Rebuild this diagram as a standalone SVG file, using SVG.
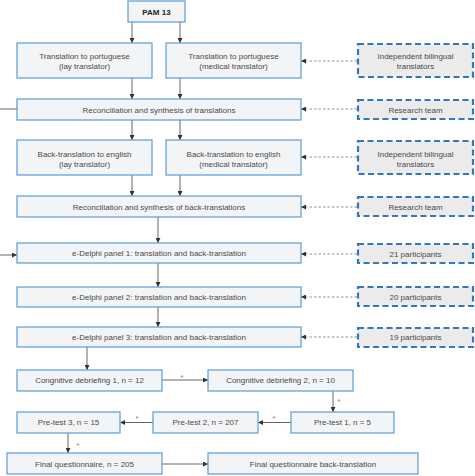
<svg xmlns="http://www.w3.org/2000/svg" width="475" height="476" viewBox="0 0 475 476">
<defs>
<style>
.b{fill:#f3f4f5;stroke:#5b9bd5;stroke-width:1.2}
.d{fill:#ebebeb;stroke:#3378ba;stroke-width:2.2;stroke-dasharray:6,3.5}
.t{font-family:"Liberation Sans",Arial,sans-serif;font-size:8px;fill:#4a4a4a;text-anchor:middle}
.bold{font-weight:bold;fill:#222}
.a{stroke:#555;stroke-width:0.9;fill:none}
.da{stroke:#777;stroke-width:0.8;stroke-dasharray:2.5,2;fill:none}
.s{font-family:"Liberation Sans",Arial,sans-serif;font-size:8px;fill:#e05555;text-anchor:middle}
</style>
<marker id="ah" viewBox="0 0 6 6" refX="6" refY="3" markerWidth="5" markerHeight="5" markerUnits="userSpaceOnUse" orient="auto"><path d="M0,0L6,3L0,6z" fill="#333"/></marker>
</defs>
<rect width="475" height="476" fill="#fff"/>
<g id="connectors">
<line class="a" x1="132" y1="22" x2="132" y2="43" marker-end="url(#ah)"/>
<line class="a" x1="180" y1="22" x2="180" y2="43" marker-end="url(#ah)"/>
<line class="a" x1="132" y1="78" x2="132" y2="99" marker-end="url(#ah)"/>
<line class="a" x1="180" y1="78" x2="180" y2="99" marker-end="url(#ah)"/>
<line class="a" x1="132" y1="120" x2="132" y2="140" marker-end="url(#ah)"/>
<line class="a" x1="180" y1="120" x2="180" y2="140" marker-end="url(#ah)"/>
<line class="a" x1="132" y1="175" x2="132" y2="196" marker-end="url(#ah)"/>
<line class="a" x1="180" y1="175" x2="180" y2="196" marker-end="url(#ah)"/>
<line class="a" x1="158" y1="217" x2="158" y2="243" marker-end="url(#ah)"/>
<line class="a" x1="158" y1="263" x2="158" y2="287" marker-end="url(#ah)"/>
<line class="a" x1="158" y1="307" x2="158" y2="327" marker-end="url(#ah)"/>
<line class="a" x1="87" y1="347" x2="87" y2="370" marker-end="url(#ah)"/>
<line class="a" x1="162" y1="380" x2="208" y2="380" marker-end="url(#ah)"/>
<line class="a" x1="333" y1="391" x2="333" y2="412" marker-end="url(#ah)"/>
<line class="a" x1="291" y1="422.5" x2="258" y2="422.5" marker-end="url(#ah)"/>
<line class="a" x1="153" y1="422.5" x2="120" y2="422.5" marker-end="url(#ah)"/>
<line class="a" x1="68" y1="433" x2="68" y2="453" marker-end="url(#ah)"/>
<line class="a" x1="162" y1="464" x2="208" y2="464" marker-end="url(#ah)"/>
<line class="a" x1="0" y1="109" x2="17" y2="109"/>
<line class="a" x1="0" y1="255" x2="17" y2="255" marker-end="url(#ah)"/>
<line class="da" x1="357" y1="61" x2="301" y2="61" marker-end="url(#ah)"/>
<line class="da" x1="357" y1="109" x2="301" y2="109" marker-end="url(#ah)"/>
<line class="da" x1="357" y1="157" x2="301" y2="157" marker-end="url(#ah)"/>
<line class="da" x1="357" y1="207" x2="301" y2="207" marker-end="url(#ah)"/>
<line class="da" x1="357" y1="254" x2="301" y2="254" marker-end="url(#ah)"/>
<line class="da" x1="357" y1="297" x2="301" y2="297" marker-end="url(#ah)"/>
<line class="da" x1="357" y1="337" x2="301" y2="337" marker-end="url(#ah)"/>
<text class="s" x="182" y="380">*</text>
<text class="s" x="339" y="404">*</text>
<text class="s" x="274" y="421">*</text>
<text class="s" x="137" y="421">*</text>
<text class="s" x="78" y="448">*</text>
</g>
<g id="pam"><rect class="b" x="128" y="1" width="57" height="21"/><text class="t bold" x="156.5" y="14.5">PAM 13</text></g>
<g id="t-lay"><rect class="b" x="17" y="43" width="135" height="35"/><text class="t" x="84.5" y="59">Translation to portuguese</text><text class="t" x="84.5" y="69">(lay translator)</text></g>
<g id="t-med"><rect class="b" x="166" y="43" width="135" height="35"/><text class="t" x="233.5" y="59">Translation to portuguese</text><text class="t" x="233.5" y="69">(medical translator)</text></g>
<g id="ibt1"><rect class="d" x="358" y="44" width="115" height="33"/><text class="t" x="415.5" y="59">Independent bilingual</text><text class="t" x="415.5" y="69">translators</text></g>
<g id="rec1"><rect class="b" x="17" y="99" width="284" height="21"/><text class="t" x="159" y="112.5">Reconciliation and synthesis of translations</text></g>
<g id="rt1"><rect class="d" x="358" y="100" width="115" height="19"/><text class="t" x="415.5" y="112.5">Research team</text></g>
<g id="bt-lay"><rect class="b" x="17" y="140" width="135" height="35"/><text class="t" x="84.5" y="157">Back-translation to english</text><text class="t" x="84.5" y="166.5">(lay translator)</text></g>
<g id="bt-med"><rect class="b" x="166" y="140" width="135" height="35"/><text class="t" x="233.5" y="157">Back-translation to english</text><text class="t" x="233.5" y="166.5">(medical translator)</text></g>
<g id="ibt2"><rect class="d" x="358" y="141" width="115" height="33"/><text class="t" x="415.5" y="157">Independent bilingual</text><text class="t" x="415.5" y="166.5">translators</text></g>
<g id="rec2"><rect class="b" x="17" y="196" width="284" height="21"/><text class="t" x="159" y="209.5">Reconciliation and synthesis of back-translations</text></g>
<g id="rt2"><rect class="d" x="358" y="197" width="115" height="19"/><text class="t" x="415.5" y="209.5">Research team</text></g>
<g id="ed1"><rect class="b" x="17" y="243" width="284" height="20"/><text class="t" x="159" y="256">e-Delphi panel 1: translation and back-translation</text></g>
<g id="p21"><rect class="d" x="358" y="244" width="115" height="19"/><text class="t" x="415.5" y="256.5">21 participants</text></g>
<g id="ed2"><rect class="b" x="17" y="287" width="284" height="20"/><text class="t" x="159" y="300">e-Delphi panel 2: translation and back-translation</text></g>
<g id="p20"><rect class="d" x="358" y="287" width="115" height="19"/><text class="t" x="415.5" y="299.5">20 participants</text></g>
<g id="ed3"><rect class="b" x="17" y="327" width="284" height="20"/><text class="t" x="159" y="340">e-Delphi panel 3: translation and back-translation</text></g>
<g id="p19"><rect class="d" x="358" y="328" width="115" height="19"/><text class="t" x="415.5" y="340">19 participants</text></g>
<g id="cd1"><rect class="b" x="17" y="370" width="145" height="21"/><text class="t" x="89.5" y="383">Congnitive debriefing 1, n = 12</text></g>
<g id="cd2"><rect class="b" x="208" y="370" width="145" height="21"/><text class="t" x="280.5" y="383">Congnitive debriefing 2, n = 10</text></g>
<g id="pt1"><rect class="b" x="291" y="412" width="103" height="21"/><text class="t" x="342.5" y="425">Pre-test 1, n = 5</text></g>
<g id="pt2"><rect class="b" x="153" y="412" width="105" height="21"/><text class="t" x="205.5" y="425">Pre-test 2, n = 207</text></g>
<g id="pt3"><rect class="b" x="17" y="412" width="103" height="21"/><text class="t" x="68.5" y="425">Pre-test 3, n = 15</text></g>
<g id="fq"><rect class="b" x="7" y="453" width="155" height="21"/><text class="t" x="84.5" y="466.5">Final questionnaire, n = 205</text></g>
<g id="fqbt"><rect class="b" x="208" y="453" width="210" height="21"/><text class="t" x="313" y="466.5">Final questionnaire back-translation</text></g>
</svg>
